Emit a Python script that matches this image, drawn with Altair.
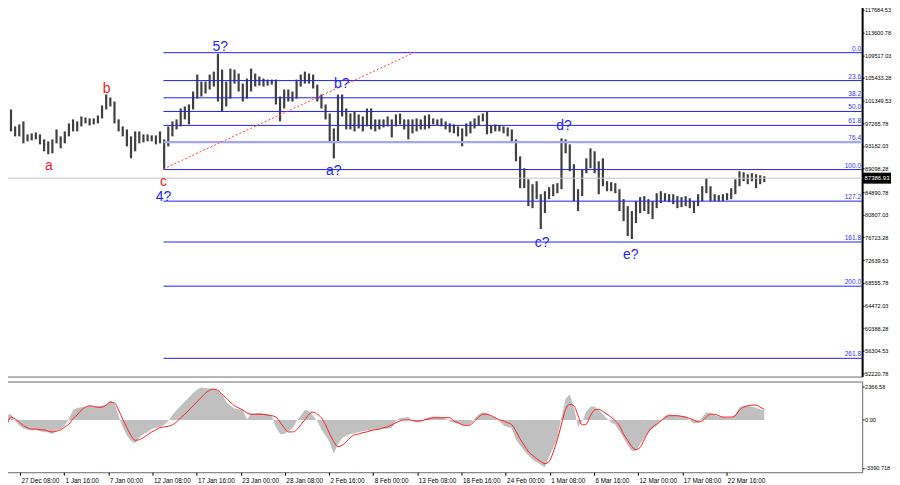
import altair as alt
import pandas as pd

# ---------------- data ----------------
# 12-hour price ranges of BTC/USD, first bar opens 25 Dec 2024 00:00 UTC
HIGH = [
    99390, 99750, 99750, 96700, 97060, 97600, 95270, 95450, 95620, 95270,
    94370, 94010, 94370, 96160, 94910, 95800, 97240, 97960, 97600, 98490,
    98310, 98140, 98140, 98670, 100470, 102440, 101900, 101180, 97960, 96700,
    96160, 94910, 95800, 95800, 95270, 95270, 95090, 95090, 95800, 94370,
    96700, 97600, 97960, 99930, 100290, 100650, 102980, 106030, 104770, 104770,
    106030, 106560, 109790, 106920, 104770, 107100, 106920, 106210, 104410, 105310,
    107100, 106210, 105670, 105310, 105130, 105130, 105130, 102080, 103340, 103340,
    102980, 105130, 106030, 106560, 106210, 106030, 104230, 102440, 100650, 99030,
    96340, 102440, 102440, 99930, 99030, 99390, 98850, 98490, 99930, 99930,
    97960, 97960, 97960, 98490, 97960, 98850, 99030, 97960, 97960, 97960,
    98140, 97960, 98670, 98850, 98140, 97960, 98140, 97600, 97240, 97060,
    96700, 96340, 97240, 97600, 98140, 98670, 99030, 99390, 96880, 97060,
    96880, 96700, 96520, 96160, 94370, 91320, 89170, 87190, 86300, 86840,
    84500, 85040, 85760, 86300, 86480, 94550, 94370, 93470, 89890, 85400,
    88990, 90960, 92750, 92220, 90420, 90960, 86840, 86660, 86480, 85400,
    83610, 82350, 81460, 83250, 83970, 84150, 83610, 83250, 84680, 85040,
    84680, 84500, 84500, 84150, 83970, 84150, 83790, 83250, 84500, 85940,
    87370, 85940, 84500, 84330, 84500, 84680, 85580, 87190, 88630, 88450,
    88090, 88270, 88090, 87910, 87730,
]
LOW = [
    97600, 97600, 95800, 94910, 94910, 93650, 94010, 94190, 94370, 93470,
    92220, 91680, 91860, 93650, 92750, 93650, 94910, 95800, 95800, 96700,
    97240, 96880, 97060, 97240, 98140, 99750, 100290, 97240, 95800, 94910,
    93110, 90960, 92220, 93650, 93830, 94010, 94010, 93470, 93650, 88990,
    93110, 94910, 96160, 96700, 97960, 97060, 99750, 101720, 102080, 102620,
    103340, 103870, 101180, 99390, 100290, 101720, 104410, 102980, 101180, 101720,
    102980, 103870, 104050, 103870, 104050, 104230, 100650, 97600, 99930, 101180,
    101180, 101720, 103870, 104410, 104410, 103520, 101180, 99930, 97960, 94010,
    90960, 94010, 98490, 96160, 96160, 95800, 96340, 95800, 96700, 96160,
    95800, 96160, 96520, 96700, 94730, 96700, 97060, 96160, 94370, 95450,
    95800, 96160, 96160, 96340, 97060, 96880, 96700, 96160, 95620, 95450,
    94910, 93110, 94910, 95450, 96340, 96880, 97600, 95270, 95450, 95800,
    95800, 95450, 94910, 94010, 90420, 85580, 85580, 82350, 81990, 83610,
    78230, 81100, 83610, 84150, 84680, 85400, 91860, 88630, 83250, 81460,
    84150, 88270, 89170, 88270, 84500, 85940, 85040, 85040, 84680, 81460,
    79660, 76970, 76430, 79300, 81100, 81460, 80920, 80020, 81990, 82890,
    83250, 83070, 82710, 81990, 82170, 82350, 81990, 81100, 82350, 83250,
    84680, 83250, 83250, 83250, 83250, 83430, 83610, 84500, 85940, 86840,
    86300, 86840, 85580, 86300, 86660,
]
MACD_HIST = [
    200, 350, 420, -100, -400, -600, -700, -750, -700, -800,
    -850, -900, -1000, -750, -650, -400, 100, 700, 850, 900,
    950, 1000, 950, 950, 1000, 1100, 1400, 1200, 300, -500,
    -1100, -1500, -1650, -1250, -1000, -850, -650, -550, -500, -350,
    -100, 350, 700, 1000, 1300, 1600, 1900, 2150, 2300, 2250,
    2250, 2200, 2050, 1800, 1300, 1000, 800, 750, 700, 50,
    450, 450, 500, 450, 400, 300, -500, -1000, -1000, -800,
    -600, -100, 300, 700, 650, 300, -100, -700, -1100, -1600,
    -2400, -1700, -1300, -1100, -1000, -950, -850, -800, -750, -700,
    -700, -650, -650, -600, -550, -100, 150, 150, 200, -100,
    -200, -150, 100, 200, 250, 250, 200, 100, -100, -200,
    -250, -350, -400, -300, 100, 400, 550, 450, 250, 150,
    -100, -400, -500, -600, -1400, -1800, -2200, -2500, -2800, -3000,
    -3200, -3350, -2600, -2000, -1300, 200, 1500, 1800, 900, -500,
    -100, 600, 950, 950, 700, 400, 100, -200, -350, -800,
    -1300, -1800, -2200, -2200, -1700, -1300, -900, -600, -400, -100,
    300, 400, 350, 300, 300, 250, -50, -250, -200, 200,
    550, 500, 350, 250, 200, 150, 150, 400, 900, 1000,
    1000, 950, 850, 750, 700,
]
MACD_SIGNAL = [
    -1000, -350, 200, 70, -150, -400, -550, -650, -650, -700,
    -700, -800, -850, -800, -700, -500, -300, 100, 350, 700,
    900, 1000, 950, 900, 900, 1050, 1250, 1200, 700, 50,
    -550, -1100, -1450, -1400, -1250, -1050, -850, -700, -550, -500,
    -450, -350, -150, 150, 400, 700, 1000, 1300, 1600, 1900,
    2100, 2170, 2100, 1800, 1550, 1250, 1000, 850, 700, 500,
    400, 400, 400, 380, 350, 300, 200, -150, -550, -850,
    -850, -700, -350, 0, 400, 550, 400, 150, -350, -1000,
    -1550, -1900, -1800, -1550, -1250, -1050, -1000, -900, -850, -750,
    -700, -650, -550, -500, -350, -200, -70, 0, 0, -30,
    -70, -70, 0, 70, 150, 150, 150, 170, 150, -70,
    -200, -350, -400, -350, -70, 200, 400, 400, 300, 150,
    0, -70, -200, -350, -800, -1350, -1800, -2250, -2500, -2750,
    -2950, -3100, -2950, -2300, -1400, -300, 750, 1100, 1000, 300,
    -350, -300, 300, 700, 750, 600, 400, 200, -70, -400,
    -1000, -1450, -1900, -2100, -1950, -1400, -850, -500, -300, -70,
    150, 300, 300, 300, 250, 200, 100, 0, -150, -70,
    200, 400, 400, 300, 200, 200, 200, 300, 700, 900,
    1000, 1050, 1050, 900, 750,
]

FIB_LEVELS = ["0.0", "23.6", "38.2", "50.0", "61.8", "76.4", "100.0", "127.2", "161.8", "200.0", "261.8"]
FIB_PRICES = [109972, 104950, 101848, 99390, 96880, 93884, 88934, 83249, 75896, 67950, 54965]

PRICE_TICKS = [117684.53, 113600.78, 109517.03, 105433.28, 101349.53, 97265.78, 93182.03,
               89098.28, 84890.78, 80807.03, 76723.28, 72639.53, 68555.78, 64472.03,
               60388.28, 56304.53, 52220.78]
MACD_TICKS = [2366.58, 0.0, -3390.718]
MACD_TICK_TEXT = ["2366.58", "0.00", "-3390.718"]

TIME_TICKS = ["2024-12-22 00:00", "2024-12-27 08:00", "2025-01-01 16:00", "2025-01-07 00:00",
              "2025-01-12 08:00", "2025-01-17 16:00", "2025-01-23 00:00", "2025-01-28 08:00",
              "2025-02-02 16:00", "2025-02-08 00:00", "2025-02-13 08:00", "2025-02-18 16:00",
              "2025-02-24 00:00", "2025-03-01 08:00", "2025-03-06 16:00", "2025-03-12 00:00",
              "2025-03-17 08:00", "2025-03-22 16:00"]

WAVE_TEXT = ["a", "b", "c", "4?", "5?", "a?", "b?", "c?", "d?", "e?"]
WAVE_TIME = ["2024-12-30 20:00", "2025-01-06 19:00", "2025-01-13 16:00", "2025-01-13 16:00",
             "2025-01-20 13:00", "2025-02-03 06:00", "2025-02-04 05:00", "2025-02-28 10:00",
             "2025-03-03 01:00", "2025-03-11 03:00"]
WAVE_PRICE = [89526, 103516, 86656, 83966, 111048, 88630, 104412, 75716, 96700, 73564]
WAVE_COLOR = ["#ee1c1c", "#ee1c1c", "#ee1c1c", "#2424ff", "#2424ff", "#2424ff", "#2424ff",
              "#2424ff", "#2424ff", "#2424ff"]

TREND_TIME = ["2025-01-13 16:00", "2025-02-13 04:00"]
TREND_PRICE = [89050, 110150]

FIB_START = "2025-01-13 16:00"
LAST_PRICE = 87386.93
LAST_TEXT = "87386.93"

X_START = "2024-12-25 04:00"
X_END = "2025-04-08 01:30"
Y_MAIN = [51685, 119119]
Y_MACD = [-3707, 2718]

FONT = "Liberation Sans"
AXIS_FS = 5.6


def ms(s):
    return int(pd.Timestamp(s, tz="UTC").value // 10**6)


def dt(s):
    t = pd.Timestamp(s)
    return alt.DateTime(year=t.year, month=t.month, date=t.day, hours=t.hour,
                        minutes=t.minute, utc=True)


n = min(len(HIGH), len(LOW), len(MACD_HIST), len(MACD_SIGNAL))
starts = pd.date_range("2024-12-25 00:00", periods=n, freq="12h", tz="UTC")
bars = pd.DataFrame({
    "t": [(s + pd.Timedelta(hours=6)).value // 10**6 for s in starts],
    "high": HIGH[:n], "low": LOW[:n],
    "hist": MACD_HIST[:n], "signal": MACD_SIGNAL[:n],
})

fib = pd.DataFrame({
    "level": FIB_LEVELS, "price": FIB_PRICES,
    "ts": ms(FIB_START), "te": ms(X_END),
    "c": ["#a4a4ff" if l == "76.4" else "#2020ff" for l in FIB_LEVELS],
    "w": [2.2 if l == "76.4" else 1.0 for l in FIB_LEVELS],
})
waves = pd.DataFrame({"text": WAVE_TEXT, "t": [ms(s) for s in WAVE_TIME],
                      "price": WAVE_PRICE, "c": WAVE_COLOR})
trend = pd.DataFrame({"t": [ms(s) for s in TREND_TIME], "price": TREND_PRICE})
last = pd.DataFrame({"price": [LAST_PRICE], "text": [LAST_TEXT]})

XSCALE = alt.Scale(type="utc", domain=[dt(X_START), dt(X_END)], nice=False)
YSCALE = alt.Scale(domain=Y_MAIN, nice=False, zero=False)
MSCALE = alt.Scale(domain=Y_MACD, nice=False, zero=False)

Y_AXIS = alt.Axis(orient="right", values=PRICE_TICKS, format=".2f", title=None, grid=False,
                  labelOverlap=False, tickSize=2, tickColor="#000", domainColor="#000",
                  domainWidth=2, labelPadding=0.5, labelFontSize=AXIS_FS, labelFont=FONT)

label_expr = " : ".join(
    f"abs(datum.value - ({v})) < 1 ? '{t}'" for v, t in zip(MACD_TICKS, MACD_TICK_TEXT)
) + " : ''"
M_AXIS = alt.Axis(orient="right", values=MACD_TICKS, labelExpr=label_expr, title=None,
                  grid=False, labelOverlap=False, tickSize=2, tickColor="#000",
                  domainColor="#808080", domainWidth=1, labelPadding=0.5,
                  labelFontSize=AXIS_FS, labelFont=FONT)

X_AXIS = alt.Axis(values=[dt(s) for s in TIME_TICKS], format="%-d %b %H:%M", title=None,
                  grid=False, labelAlign="left", labelOffset=1, labelPadding=2,
                  labelFlush=False, labelOverlap=False, tickSize=3, tickColor="#000",
                  domain=False, labelFontSize=6.4, labelFont=FONT)


def xm(field):
    return alt.X(f"{field}:T", scale=XSCALE, axis=None)


def ym(field):
    return alt.Y(f"{field}:Q", scale=YSCALE, axis=Y_AXIS)


candles = alt.Chart(bars).mark_rule(color="#404040", strokeWidth=2.2).encode(
    x=xm("t"), y=ym("low"), y2="high:Q")

curline = alt.Chart(last).mark_rule(color="#c4c4c4", strokeWidth=1).encode(
    y=ym("price"))

fibrules = alt.Chart(fib).mark_rule().encode(
    x=xm("ts"), x2="te:T", y=ym("price"),
    color=alt.Color("c:N", scale=None), strokeWidth=alt.StrokeWidth("w:Q", scale=None))

fiblabels = alt.Chart(fib).mark_text(
    align="right", baseline="alphabetic", dx=-1, dy=-2, fontSize=6.6, font=FONT,
    color="#3030ff").encode(x=xm("te"), y=ym("price"), text="level:N")

trendline = alt.Chart(trend).mark_line(
    color="#ff3a3a", strokeDash=[2, 2], strokeWidth=1).encode(x=xm("t"), y=ym("price"))

wavelabels = alt.Chart(waves).mark_text(
    fontSize=14, font=FONT, align="center", baseline="middle").encode(
    x=xm("t"), y=ym("price"), text="text:N", color=alt.Color("c:N", scale=None))

pricebox = alt.Chart(last).mark_rect(color="#000", yOffset=-5.5, y2Offset=5.5).encode(
    x=alt.value(864), x2=alt.value(892), y=ym("price"), y2="price:Q")

pricetext = alt.Chart(last).mark_text(
    align="left", baseline="middle", color="#fff", fontSize=6.0, font=FONT).encode(
    x=alt.value(865.5), y=ym("price"), text="text:N")

main = alt.layer(candles, curline, fibrules, trendline, fiblabels, wavelabels,
                 pricebox, pricetext).properties(width=863, height=376)

hist = alt.Chart(bars).mark_area(color="#c0c0c0", interpolate="linear").encode(
    x=alt.X("t:T", scale=XSCALE, axis=X_AXIS),
    y=alt.Y("hist:Q", scale=MSCALE, axis=M_AXIS), y2=alt.datum(0))

signal = alt.Chart(bars).mark_line(color="#ff2020", strokeWidth=1, interpolate="monotone").encode(
    x=alt.X("t:T", scale=XSCALE, axis=X_AXIS),
    y=alt.Y("signal:Q", scale=MSCALE, axis=M_AXIS))

macd = alt.layer(hist, signal).properties(width=863, height=91)

chart = alt.vconcat(main, macd, spacing=2).properties(
    padding={"left": -8, "top": -8, "right": 0, "bottom": 0},
    background="white",
).configure_view(stroke="#6a6a6a", strokeWidth=1).configure_axis(labelColor="#000")

chart.save("out.html", embed_options={"renderer": "svg", "actions": False})
